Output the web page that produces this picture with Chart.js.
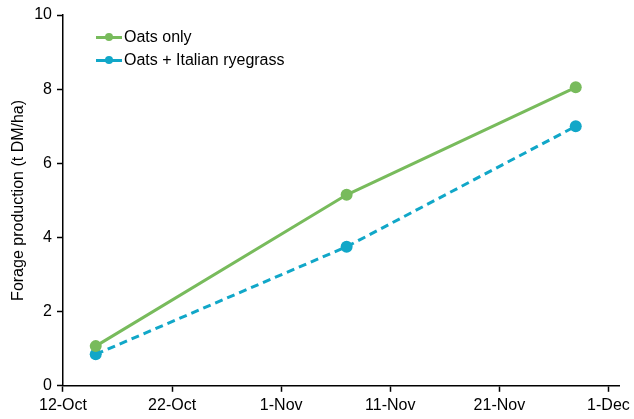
<!DOCTYPE html>
<html>
<head>
<meta charset="utf-8">
<script src="https://cdn.jsdelivr.net/npm/chart.js@4"></script>
<style>
  html, body { margin: 0; padding: 0; background: #fff; }
  #wrap { position: relative; width: 634px; height: 419px; }
  #legend { position: absolute; left: 96px; top: 25px; font: 16px "Liberation Sans", Arial, sans-serif; color: #000; }
  .item { display: flex; align-items: center; height: 23px; }
  .swatch { position: relative; width: 26px; height: 10px; margin-right: 2px; }
  .swatch .ln { position: absolute; left: 0; right: 0; top: 4px; height: 3px; }
  .swatch .dot { position: absolute; left: 9px; top: 1px; width: 8px; height: 8px; border-radius: 50%; }
</style>
</head>
<body>
<div id="wrap">
  <canvas id="chart" width="634" height="419"></canvas>
  <div id="legend"></div>
</div>
<script>
// x values are days after 12-Oct
const sampleDays = [3, 26, 47];
const oatsOnly = [1.07, 5.15, 8.05];
const oatsRyegrass = [0.85, 3.75, 7.0];
const tickDays = [0, 10, 20, 30, 40, 50];
const tickLabels = ['12-Oct', '22-Oct', '1-Nov', '11-Nov', '21-Nov', '1-Dec'];
const seriesNames = ['Oats only', 'Oats + Italian ryegrass'];

const green = '#78bb5c';
const blue = '#11a7c8';

Chart.defaults.font.family = '"Liberation Sans", Arial, sans-serif';
Chart.defaults.color = '#000';

function toPoints(vals) {
    return sampleDays.map((d, i) => ({ x: d, y: vals[i] }));
}

const chart = new Chart(document.getElementById('chart'), {
    type: 'line',
    data: {
        datasets: [
            {
                label: seriesNames[0],
                data: toPoints(oatsOnly),
                borderColor: green,
                backgroundColor: green,
                borderWidth: 3,
                pointRadius: 6,
                pointBorderWidth: 0,
                tension: 0
            },
            {
                label: seriesNames[1],
                data: toPoints(oatsRyegrass),
                borderColor: blue,
                backgroundColor: blue,
                borderWidth: 3,
                borderDash: [8, 5],
                pointRadius: 6,
                pointBorderWidth: 0,
                tension: 0
            }
        ]
    },
    options: {
        responsive: false,
        animation: false,
        layout: { padding: { left: 9, right: 10, top: 15, bottom: 0 } },
        plugins: {
            legend: { display: false },
            tooltip: { enabled: false }
        },
        scales: {
            x: {
                type: 'linear',
                min: 0,
                max: 51,
                afterBuildTicks: function(scale) {
                    scale.ticks = tickDays.map(v => ({ value: v }));
                },
                ticks: {
                    autoSkip: false,
                    maxRotation: 0,
                    padding: 4,
                    font: { size: 16 },
                    color: '#000',
                    callback: function(value) {
                        const i = tickDays.indexOf(value);
                        return i >= 0 ? tickLabels[i] : '';
                    }
                },
                grid: { drawOnChartArea: false, tickLength: 6, tickColor: '#000', tickWidth: 1.5 },
                border: { color: '#000', width: 1.5 }
            },
            y: {
                min: 0,
                max: 10,
                ticks: { stepSize: 2, padding: 5, font: { size: 16 }, color: '#000' },
                grid: { drawOnChartArea: false, tickLength: 6, tickColor: '#000', tickWidth: 1.5 },
                border: { color: '#000', width: 1.5 },
                title: {
                    display: true,
                    text: 'Forage production (t DM/ha)',
                    font: { size: 16 },
                    color: '#000',
                    padding: { top: 0, bottom: 1 }
                }
            }
        }
    }
});

// HTML legend matching the series colours
const legendEl = document.getElementById('legend');
chart.data.datasets.forEach(ds => {
    const item = document.createElement('div');
    item.className = 'item';
    item.innerHTML = '<span class="swatch"><span class="ln" style="background:' + ds.borderColor +
        '"></span><span class="dot" style="background:' + ds.borderColor + '"></span></span>' +
        '<span>' + ds.label + '</span>';
    legendEl.appendChild(item);
});
</script>
</body>
</html>
